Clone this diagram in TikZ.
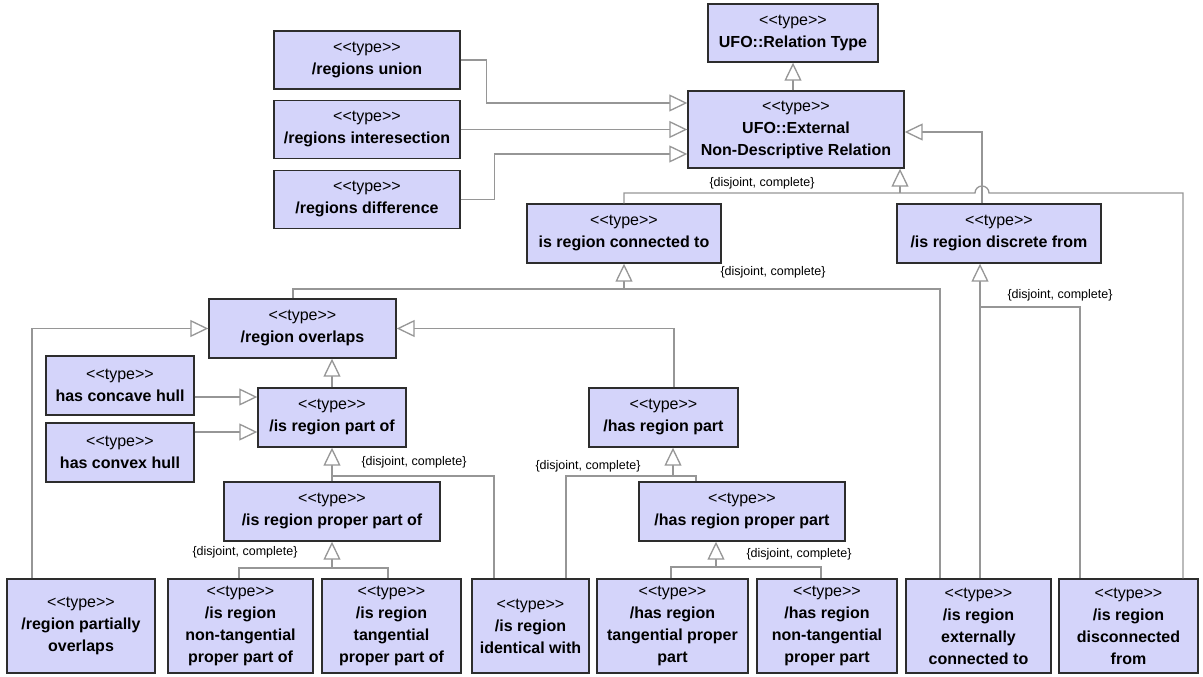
\documentclass[tikz,border=0pt]{standalone}
\usepackage{fontspec}
\setmainfont{Liberation Sans}
\usetikzlibrary{arrows.meta}

\definecolor{typefill}{RGB}{212,212,250}
\definecolor{typeline}{RGB}{45,45,45}
\definecolor{linkgray}{RGB}{150,150,150}
\newcommand{\stype}{<\kern0pt<type>\kern0pt>}

\tikzset{
  typebox/.style={rectangle, draw=typeline, fill=typefill, line width=1.4pt,
    align=center, inner sep=2pt, font=\fontsize{16}{22}\selectfont},
  link/.style={draw=linkgray, line width=1.3pt},
  gen/.style={link, -{Triangle[open, length=18pt, width=17pt, fill=white]}},
  gsetlabel/.style={font=\fontsize{12.5}{15}\selectfont, inner sep=0pt},
}

\begin{document}
\begin{tikzpicture}[x=1pt, y=-1pt]
    \useasboundingbox (0,0) rectangle (1203,677);

    % top part
    \node [typebox, minimum width=170pt, minimum height=58pt] (reltype) at (793,33) {\stype\\\textbf{UFO::Relation Type}};
    \node [typebox, minimum width=216pt, minimum height=77pt] (extrel) at (796,129.5) {\stype\\\textbf{UFO::External}\\\textbf{Non-Descriptive Relation}};
    \node [typebox, minimum width=186pt, minimum height=58pt] (union) at (367,60) {\stype\\\textbf{/regions union}};
    \node [typebox, minimum width=186pt, minimum height=58pt] (inter) at (367,129.5) {\stype\\\textbf{/regions interesection}};
    \node [typebox, minimum width=186pt, minimum height=58pt] (diff) at (367,199.5) {\stype\\\textbf{/regions difference}};
    \node [typebox, minimum width=194pt, minimum height=59pt] (connto) at (624,233.5) {\stype\\\textbf{is region connected to}};
    \node [typebox, minimum width=204pt, minimum height=59pt] (discr) at (999,233.5) {\stype\\\textbf{/is region discrete from}};

    % middle part
    \node [typebox, minimum width=187pt, minimum height=59pt] (overlaps) at (302.5,328.5) {\stype\\\textbf{/region overlaps}};
    \node [typebox, minimum width=148pt, minimum height=59pt] (concave) at (120,385.5) {\stype\\\textbf{has concave hull}};
    \node [typebox, minimum width=148pt, minimum height=59pt] (convex) at (120,452.5) {\stype\\\textbf{has convex hull}};
    \node [typebox, minimum width=148pt, minimum height=59pt] (partof) at (332,417.5) {\stype\\\textbf{/is region part of}};
    \node [typebox, minimum width=149pt, minimum height=59pt] (haspart) at (663.5,417.5) {\stype\\\textbf{/has region part}};
    \node [typebox, minimum width=216pt, minimum height=59pt] (ppartof) at (332,511.5) {\stype\\\textbf{/is region proper part of}};
    \node [typebox, minimum width=206pt, minimum height=59pt] (hasppart) at (742,511.5) {\stype\\\textbf{/has region proper part}};

    % bottom row
    \node [typebox, minimum width=148pt, minimum height=94pt] (po) at (81,626) {\stype\\\textbf{/region partially}\\\textbf{overlaps}};
    \node [typebox, minimum width=145pt, minimum height=94pt] (ntppof) at (240.5,626) {\stype\\\textbf{/is region}\\\textbf{non-tangential}\\\textbf{proper part of}};
    \node [typebox, minimum width=139pt, minimum height=94pt] (tppof) at (391.5,626) {\stype\\\textbf{/is region}\\\textbf{tangential}\\\textbf{proper part of}};
    \node [typebox, minimum width=117pt, minimum height=94pt] (ident) at (530.5,626) {\stype\\\textbf{/is region}\\\textbf{identical with}};
    \node [typebox, minimum width=151pt, minimum height=94pt] (hastpp) at (672.5,626) {\stype\\\textbf{/has region}\\\textbf{tangential proper}\\\textbf{part}};
    \node [typebox, minimum width=140pt, minimum height=94pt] (hasntpp) at (827,626) {\stype\\\textbf{/has region}\\\textbf{non-tangential}\\\textbf{proper part}};
    \node [typebox, minimum width=145pt, minimum height=94pt] (extcon) at (978.5,626) {\stype\\\textbf{/is region}\\\textbf{externally}\\\textbf{connected to}};
    \node [typebox, minimum width=139pt, minimum height=94pt] (discon) at (1128.5,626) {\stype\\\textbf{/is region}\\\textbf{disconnected}\\\textbf{from}};

    % generalization set points
    \coordinate (gsext) at (900,193);
    \coordinate (gsconn) at (624,289);
    \coordinate (gsdiscr) at (980,307);
    \coordinate (gspart) at (332,476);
    \coordinate (gshaspart) at (673,476);
    \coordinate (gsppart) at (332,568);
    \coordinate (gshasppart) at (716,567);
    \coordinate (discrtop) at ([xshift=-17pt]discr.north);
    \coordinate (jump) at (discrtop |- gsext);

    % generalizations
    \draw [gen] (reltype.south |- extrel.north) -- (reltype.south);
    \draw [gen] (union.east) -- ++(26,0) |- ([yshift=26.5pt]extrel.west);
    \draw [gen] (inter.east) -- (extrel.west);
    \draw [gen] (diff.east) -- ++(34,0) |- ([yshift=-24.5pt]extrel.west);
    \draw [gen] (discrtop) |- ([yshift=-2.5pt]extrel.east);
    \draw [gen] (gsext) -- (gsext |- extrel.south);
    \draw [link] (connto.north) |- (gsext) -- ([xshift=-7pt]jump)
        arc [start angle=180, end angle=0, radius=7pt] -| ([xshift=54.5pt]discon.north);

    \draw [gen] (gsconn) -- (connto.south);
    \draw [link] ([xshift=-9.5pt]overlaps.north) |- (gsconn) -| ([xshift=-38.5pt]extcon.north);

    \draw [gen] (gsdiscr) -- (gsdiscr |- discr.south);
    \draw [link] ([xshift=1.5pt]extcon.north) -- (gsdiscr) -| ([xshift=-48.5pt]discon.north);

    \draw [gen] ([xshift=-49pt]po.north) |- (overlaps.west);
    \draw [gen] ([xshift=10.5pt]haspart.north) |- (overlaps.east);
    \draw [gen] (partof.north) -- (partof.north |- overlaps.south);
    \draw [gen] ([yshift=-11.5pt]concave.east) -- ([yshift=20.5pt]partof.west);
    \draw [gen] ([yshift=20.5pt]convex.east) -- ([yshift=-14.5pt]partof.west);

    \draw [gen] (gspart) -- (partof.south);
    \draw [link] (ppartof.north) -- (gspart) -| ([xshift=-36.5pt]ident.north);

    \draw [gen] (gshaspart) -- (gshaspart |- haspart.south);
    \draw [link] ([xshift=35.5pt]ident.north) |- (gshaspart) -| ([xshift=-46pt]hasppart.north);

    \draw [gen] (gsppart) -- (ppartof.south);
    \draw [link] ([xshift=-1.5pt]ntppof.north) |- (gsppart) -| ([xshift=-3.5pt]tppof.north);

    \draw [gen] (gshasppart) -- (gshasppart |- hasppart.south);
    \draw [link] ([xshift=-1.5pt]hastpp.north) |- (gshasppart) -| ([xshift=-6pt]hasntpp.north);

    % set labels
    \node [gsetlabel] (gsextlbl) at (762,183) {\{disjoint, complete\}};
    \node [gsetlabel] (gsconnlbl) at (773,272) {\{disjoint, complete\}};
    \node [gsetlabel] (gsdiscrlbl) at (1060,295) {\{disjoint, complete\}};
    \node [gsetlabel] (gspartlbl) at (414,462) {\{disjoint, complete\}};
    \node [gsetlabel] (gshaspartlbl) at (588,466) {\{disjoint, complete\}};
    \node [gsetlabel] (gsppartlbl) at (245,552) {\{disjoint, complete\}};
    \node [gsetlabel] (gshasppartlbl) at (799,554) {\{disjoint, complete\}};
\end{tikzpicture}
\end{document}
